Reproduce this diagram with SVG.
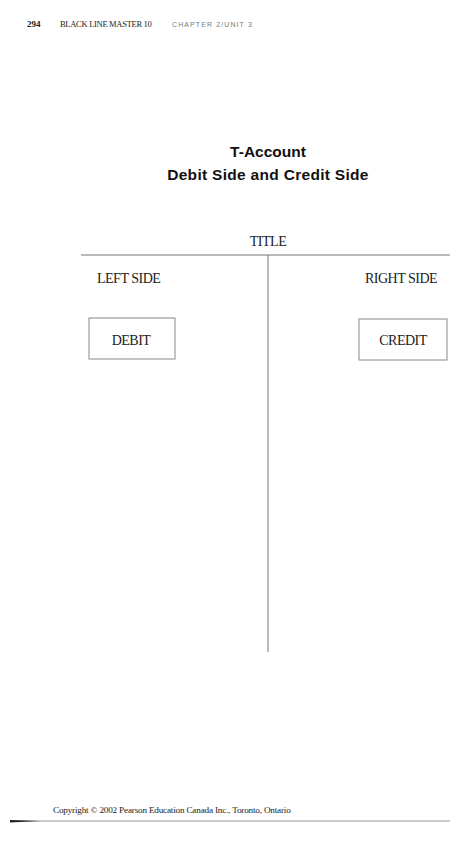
<svg xmlns="http://www.w3.org/2000/svg" width="450" height="845" viewBox="0 0 450 845">
<style>
.serif{font-family:"Liberation Serif","DejaVu Serif",serif;fill:#222}
.head{font-family:"Liberation Sans","DejaVu Sans",sans-serif;font-weight:bold;fill:#111;text-anchor:middle}
.ln{stroke:#777;stroke-width:1;fill:none}
.box{stroke:#888;stroke-width:1;fill:#fff}
.lbl{font-size:14px;letter-spacing:-0.5px}
</style>
<rect width="450" height="845" fill="#fff"/>
<g id="header">
<text class="serif" x="27" y="27" font-size="9" font-weight="bold">294</text>
<text class="serif" x="60" y="27" font-size="8.5" letter-spacing="-0.3">BLACK LINE MASTER 10</text>
<text x="172" y="27" font-size="7" letter-spacing="1.1" fill="#777" font-family="Liberation Sans, sans-serif">CHAPTER 2/UNIT 3</text>
</g>
<g id="title">
<text class="head" x="268" y="157" font-size="15.5">T-Account</text>
<text class="head" x="268" y="180" font-size="15.5" letter-spacing="0.3">Debit Side and Credit Side</text>
</g>
<g id="connectors">
<line class="ln" x1="81" y1="255" x2="450" y2="255"/>
<line class="ln" x1="268" y1="255" x2="268" y2="652"/>
<path d="M10 821 L450 821" stroke="#999" stroke-width="1"/>
<path d="M10 820 L40 821 L10 822.5 Z" fill="#222"/>
</g>
<g id="t-title"><text class="serif lbl" x="268" y="246" text-anchor="middle">TITLE</text></g>
<g id="left-side"><text class="serif lbl" x="97" y="283">LEFT SIDE</text></g>
<g id="right-side"><text class="serif lbl" x="365" y="283">RIGHT SIDE</text></g>
<g id="debit">
<rect class="box" x="89" y="318" width="86" height="41"/>
<text class="serif lbl" x="131" y="345" text-anchor="middle">DEBIT</text>
</g>
<g id="credit">
<rect class="box" x="359" y="319" width="88" height="41"/>
<text class="serif lbl" x="403" y="345" text-anchor="middle">CREDIT</text>
</g>
<g id="footer">
<text class="serif" x="53" y="813" font-size="9.2" letter-spacing="-0.2">Copyright © 2002 Pearson Education Canada Inc., Toronto, Ontario</text>
</g>
</svg>
